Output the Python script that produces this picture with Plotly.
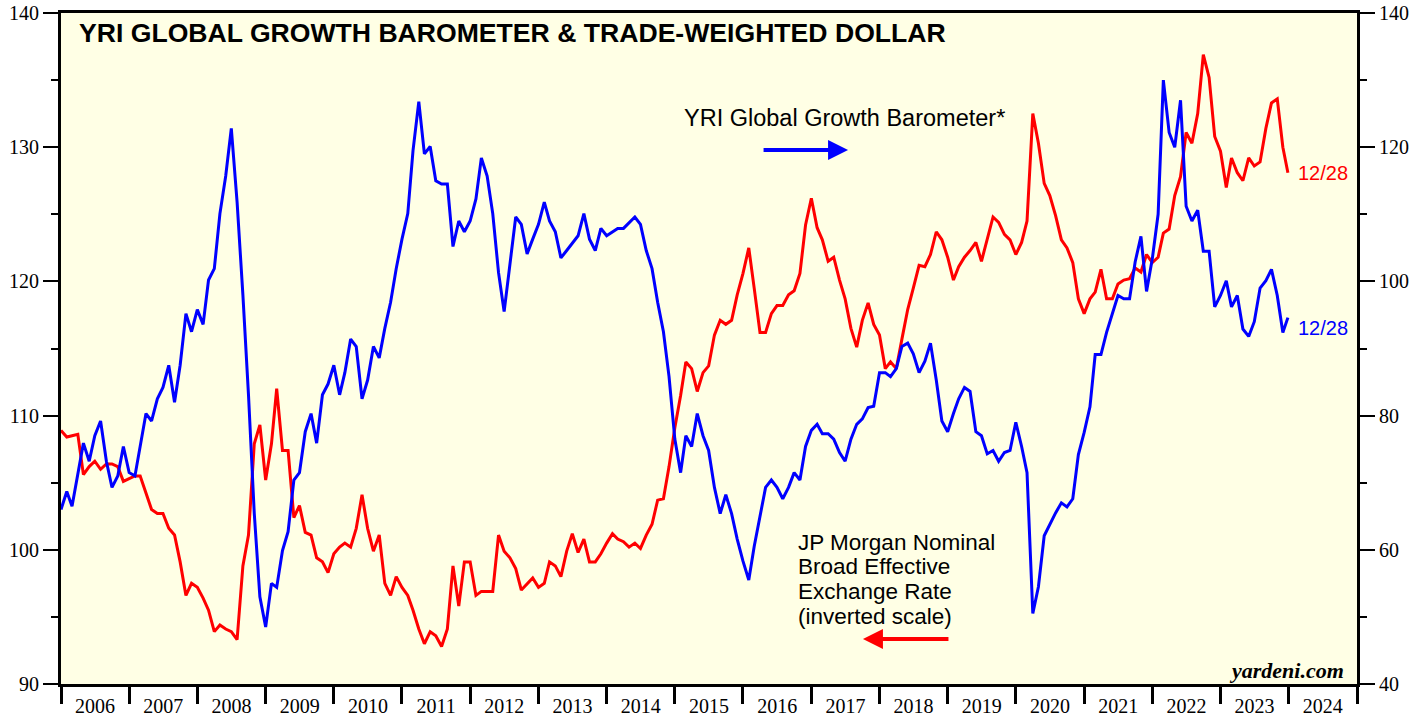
import pandas as pd
import plotly.graph_objects as go

START = "2006-01-01"
LAST_DAY = "2023-12-28"

# YRI Global Growth Barometer (right axis), monthly from Jan 2006, last point 12/28/2023
barometer = [
    66.0, 68.7, 66.5, 71.5, 75.9, 73.2, 77.0, 79.2, 73.2, 69.3, 71.0, 75.4,
    71.5, 71.0, 75.4, 80.3, 79.2, 82.5, 84.2, 87.5, 82.0, 87.5, 95.2, 92.5,
    95.8, 93.6, 100.2, 101.9, 110.1, 115.7, 122.8, 111.8, 98.0, 83.1, 65.4, 53.0,
    48.5, 55.0, 54.4, 59.9, 62.7, 70.4, 71.5, 77.6, 80.3, 75.9, 83.1, 84.7,
    87.5, 83.1, 86.4, 91.4, 90.3, 82.5, 85.3, 90.3, 88.6, 93.0, 96.9, 101.9,
    106.3, 110.1, 119.5, 126.8, 119.0, 120.1, 115.0, 114.5, 114.5, 105.2, 109.0, 107.4,
    109.0, 112.3, 118.4, 115.7, 110.1, 101.3, 95.5, 103.0, 109.6, 108.5, 104.1, 106.3,
    108.5, 111.8, 109.0, 107.4, 103.5, 104.6, 105.7, 106.8, 110.1, 106.3, 104.6, 107.9,
    106.8, 107.4, 107.9, 107.9, 108.8, 109.6, 108.5, 104.6, 101.9, 96.9, 92.5, 85.8,
    76.5, 71.5, 77.0, 75.4, 80.3, 77.0, 74.8, 69.3, 65.4, 68.2, 65.4, 61.6,
    58.3, 55.5, 60.5, 64.9, 69.3, 70.4, 69.3, 67.6, 69.3, 71.5, 70.4, 75.4,
    77.8, 78.7, 77.3, 77.3, 76.5, 74.5, 73.2, 76.5, 78.7, 79.5, 81.2, 81.4,
    86.4, 86.4, 85.8, 87.0, 90.3, 90.8, 89.2, 86.4, 88.1, 90.8, 85.3, 79.2,
    77.6, 80.3, 82.5, 84.2, 83.6, 77.6, 77.0, 74.3, 74.8, 73.2, 74.5, 74.8,
    79.0, 75.4, 71.5, 50.5, 54.5, 62.1, 63.8, 65.5, 67.0, 66.4, 67.6, 74.2,
    77.5, 81.3, 89.1, 89.1, 92.4, 95.1, 97.9, 97.4, 97.4, 102.9, 106.7, 98.5,
    103.4, 110.0, 130.0, 122.2, 120.0, 127.0, 111.2, 109.0, 110.6, 104.5, 104.5, 96.2,
    97.9, 100.1, 96.2, 97.9, 92.9, 91.8, 94.0, 99.0, 100.1, 101.8, 97.9, 92.4,
    94.6,
]

# JP Morgan nominal broad effective exchange rate (left axis, as plotted)
dollar = [
    108.9, 108.4, 108.5, 108.6, 105.6, 106.2, 106.6, 106.0, 106.4, 106.4, 106.2, 105.1,
    105.3, 105.5, 105.5, 104.2, 103.0, 102.7, 102.7, 101.6, 101.1, 99.1, 96.6, 97.5,
    97.2, 96.4, 95.5, 93.9, 94.4, 94.1, 93.9, 93.3, 98.8, 101.1, 107.9, 109.3,
    105.2, 107.9, 112.0, 107.4, 107.4, 102.4, 103.3, 101.3, 101.1, 99.4, 99.1, 98.3,
    99.7, 100.2, 100.5, 100.2, 101.6, 104.1, 101.6, 99.9, 101.1, 97.5, 96.6, 98.0,
    97.2, 96.6, 95.5, 94.1, 93.0, 93.9, 93.6, 92.8, 94.1, 98.8, 95.8, 99.1,
    99.1, 96.6, 96.9, 96.9, 96.9, 101.1, 99.9, 99.4, 98.6, 97.0, 97.5, 97.9,
    97.2, 97.5, 99.1, 98.8, 98.0, 99.9, 101.2, 99.8, 100.8, 99.1, 99.1, 99.7,
    100.5, 101.2, 100.8, 100.6, 100.2, 100.5, 100.1, 101.1, 101.9, 103.7, 103.8, 106.2,
    109.1, 111.5, 114.0, 113.5, 111.8, 113.2, 113.7, 116.0, 117.1, 116.8, 117.1, 119.0,
    120.6, 122.5, 119.5, 116.2, 116.2, 117.6, 118.2, 118.2, 119.0, 119.3, 120.6, 124.2,
    126.2, 124.0, 123.1, 121.5, 121.8, 120.1, 118.7, 116.5, 115.1, 117.1, 118.4, 116.8,
    116.0, 113.5, 114.0, 113.5, 115.7, 117.9, 119.5, 121.2, 121.1, 122.0, 123.7, 123.1,
    121.8, 120.1, 121.1, 121.8, 122.3, 122.9, 121.5, 123.1, 124.8, 124.4, 123.5, 123.1,
    122.0, 122.9, 124.5, 132.5, 130.3, 127.3, 126.4, 124.9, 123.1, 122.5, 121.4, 118.7,
    117.6, 118.7, 119.2, 120.9, 118.7, 118.7, 119.8, 120.1, 120.2, 121.0, 120.7, 122.0,
    121.4, 121.8, 123.6, 123.9, 126.4, 127.8, 131.1, 130.3, 132.5, 136.9, 135.2, 130.8,
    129.7, 127.0, 129.2, 128.1, 127.5, 129.2, 128.6, 128.9, 131.4, 133.3, 133.6, 130.0,
    128.1,
]

dates = list(pd.date_range(START, periods=len(barometer) - 1, freq="MS")) + [pd.Timestamp(LAST_DAY)]

tick_font = dict(family="Liberation Serif", size=20, color="black")

fig = go.Figure()
fig.add_trace(go.Scatter(x=dates, y=dollar, mode="lines", yaxis="y",
                         line=dict(color="#ff0000", width=3)))
fig.add_trace(go.Scatter(x=dates, y=barometer, mode="lines", yaxis="y2",
                         line=dict(color="#0000ff", width=3)))

fig.update_layout(
    width=1427, height=719,
    margin=dict(l=61, r=70, t=13, b=35),
    paper_bgcolor="white",
    plot_bgcolor="#ffffe5",
    showlegend=False,
    xaxis=dict(
        type="date", range=["2006-01-01", "2025-01-01"], automargin=False,
        tick0="2006-01-01", dtick="M12", tickformat="%Y", ticklabelmode="period",
        ticks="outside", ticklen=17, tickwidth=2.5, tickcolor="black",
        ticklabelstandoff=-15,
        showline=True, linewidth=3, linecolor="black", mirror=True,
        showgrid=False, zeroline=False, tickfont=tick_font,
    ),
    yaxis=dict(
        range=[90, 140], dtick=10, tick0=90, automargin=False,
        ticks="outside", ticklen=15, tickwidth=2, tickcolor="black",
        minor=dict(dtick=5, tick0=90, ticks="outside", ticklen=7, tickwidth=2,
                   tickcolor="black", showgrid=False),
        showline=True, linewidth=3, linecolor="black",
        showgrid=False, zeroline=False, tickfont=tick_font,
    ),
    yaxis2=dict(
        range=[40, 140], dtick=20, tick0=40, overlaying="y", side="right",
        automargin=False,
        ticks="outside", ticklen=15, tickwidth=2, tickcolor="black",
        minor=dict(dtick=10, tick0=40, ticks="outside", ticklen=7, tickwidth=2,
                   tickcolor="black", showgrid=False),
        showline=True, linewidth=3, linecolor="black",
        showgrid=False, zeroline=False, tickfont=tick_font,
    ),
)

sans = "Liberation Sans, Arial, sans-serif"
label_font = dict(family=sans, size=22.5, color="black")
notes = [
    dict(x=0.0123, y=0.970, text="<b>YRI GLOBAL GROWTH BAROMETER & TRADE-WEIGHTED DOLLAR</b>",
         xanchor="left", font=dict(family=sans, size=26.6, color="black")),
    dict(x=0.479, y=0.8435, text="YRI Global Growth Barometer*",
         xanchor="left", font=dict(family=sans, size=23.5, color="black")),
    dict(x=0.5671, y=0.2116, text="JP Morgan Nominal", xanchor="left", font=label_font),
    dict(x=0.5671, y=0.1746, text="Broad Effective", xanchor="left", font=label_font),
    dict(x=0.5671, y=0.1376, text="Exchange Rate", xanchor="left", font=label_font),
    dict(x=0.5671, y=0.1006, text="(inverted scale)", xanchor="left", font=label_font),
    dict(x=0.953, y=0.7616, text="12/28",
         xanchor="left", font=dict(family=sans, size=20, color="#ff0000")),
    dict(x=0.953, y=0.5306, text="12/28",
         xanchor="left", font=dict(family=sans, size=20, color="#0000ff")),
    dict(x=0.9915, y=0.0194, text="<b><i>yardeni.com</i></b>",
         xanchor="right", font=dict(family="Liberation Serif", size=22, color="black")),
]
for n in notes:
    fig.add_annotation(xref="paper", yref="paper", yanchor="middle", showarrow=False, **n)

# direction arrows
fig.add_annotation(xref="paper", yref="paper", x=0.6073, y=0.7958, ax=-86, ay=0,
                   text="", showarrow=True, arrowhead=2, arrowsize=1.0, arrowwidth=4,
                   arrowcolor="#0000ff")
fig.add_annotation(xref="paper", yref="paper", x=0.6188, y=0.0671, ax=87, ay=0,
                   text="", showarrow=True, arrowhead=2, arrowsize=1.0, arrowwidth=4,
                   arrowcolor="#ff0000")

# drop the browser's default body margin so the figure sits at the page corner
fig.write_html("out.html", config={"displayModeBar": False},
               post_script="document.body.style.margin = '0';")
